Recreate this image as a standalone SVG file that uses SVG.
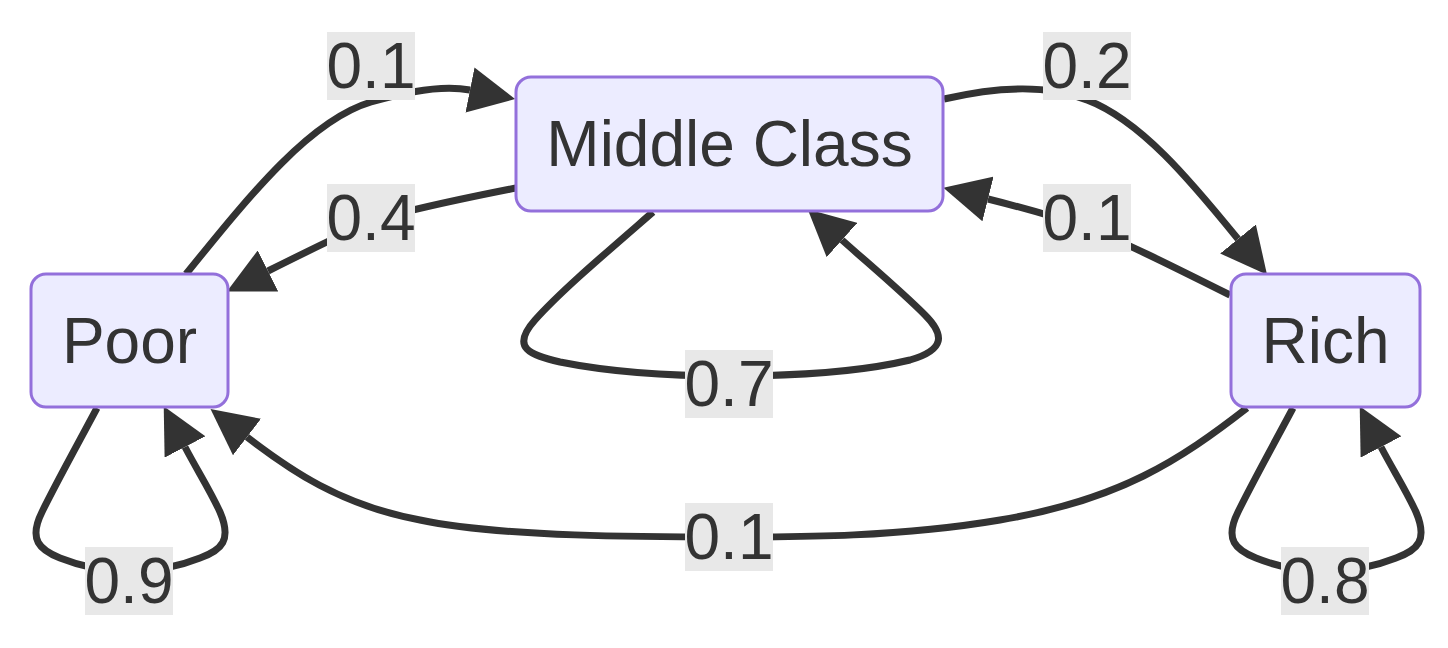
<svg xmlns="http://www.w3.org/2000/svg" width="1448" height="648" viewBox="0 0 1448 648">
<style>
.edge{fill:none;stroke:#333333;stroke-width:7;marker-end:url(#arrow)}
.node rect{fill:#ECECFF;stroke:#9370DB;stroke-width:3}
.lbl rect{fill:#e8e8e8}
text{font-family:"Liberation Sans",Arial,sans-serif;font-size:64px;fill:#333333;text-anchor:middle}
</style>
<defs>
<marker id="arrow" viewBox="0 0 10 10" refX="0" refY="5" markerUnits="userSpaceOnUse" markerWidth="46" markerHeight="46" orient="auto">
<path d="M0,0 L10,5 L0,10 z" fill="#333333"/>
</marker>
</defs>
<rect width="1448" height="648" fill="#ffffff"/>
<g id="connectors">
<path class="edge" d="M186,274 C250,195 310,120 371,102 S460,88 470,90"/>
<path class="edge" d="M516,188 C440,203 390,215 371,222 S300,255 268,271"/>
<path class="edge" d="M944,99 C1000,86 1050,85 1087,100 C1140,120 1190,180 1238,239"/>
<path class="edge" d="M1230,295 C1170,265 1120,240 1087,228 S1020,207 988,199"/>
<path class="edge" d="M653,212 C600,258 560,292 535,320 C510,348 530,355 560,362 C610,372 670,376 729,376 C790,376 860,372 910,360 C945,350 945,335 925,315 C900,290 870,265 842,240"/>
<path class="edge" d="M97,408 C80,440 55,485 42,512 C28,540 40,550 60,558 C80,566 100,571 129,572 C158,571 180,566 200,558 C222,550 232,540 220,512 C210,490 197,470 185,447"/>
<path class="edge" d="M1293,408 C1276,440 1251,485 1238,512 C1224,540 1236,550 1256,558 C1276,566 1296,571 1325,572 C1354,571 1376,566 1396,558 C1418,550 1428,540 1416,512 C1406,490 1393,470 1381,447"/>
<path class="edge" d="M1247,408 C1180,460 1120,500 1000,520 C900,537 800,537 729,537 C650,537 500,537 420,520 C340,505 290,470 247,437"/>
</g>
<g id="edge-labels">
<g class="lbl"><rect x="327" y="32" width="88" height="68"/><text x="371" y="88">0.1</text></g>
<g class="lbl"><rect x="327" y="184" width="88" height="68"/><text x="371" y="240">0.4</text></g>
<g class="lbl"><rect x="1043" y="32" width="88" height="68"/><text x="1087" y="88">0.2</text></g>
<g class="lbl"><rect x="1043" y="184" width="88" height="68"/><text x="1087" y="240">0.1</text></g>
<g class="lbl"><rect x="685" y="350" width="88" height="68"/><text x="729" y="406">0.7</text></g>
<g class="lbl"><rect x="685" y="503" width="88" height="68"/><text x="729" y="559">0.1</text></g>
<g class="lbl"><rect x="85" y="547" width="88" height="68"/><text x="129" y="603">0.9</text></g>
<g class="lbl"><rect x="1281" y="547" width="88" height="68"/><text x="1325" y="603">0.8</text></g>
</g>
<g id="node-middle" class="node"><rect x="516" y="77" width="427" height="134" rx="15"/><text x="729.5" y="166">Middle Class</text></g>
<g id="node-poor" class="node"><rect x="31" y="274" width="197" height="133" rx="15"/><text x="129.5" y="363">Poor</text></g>
<g id="node-rich" class="node"><rect x="1231" y="274" width="189" height="133" rx="15"/><text x="1325.5" y="363">Rich</text></g>
</svg>
